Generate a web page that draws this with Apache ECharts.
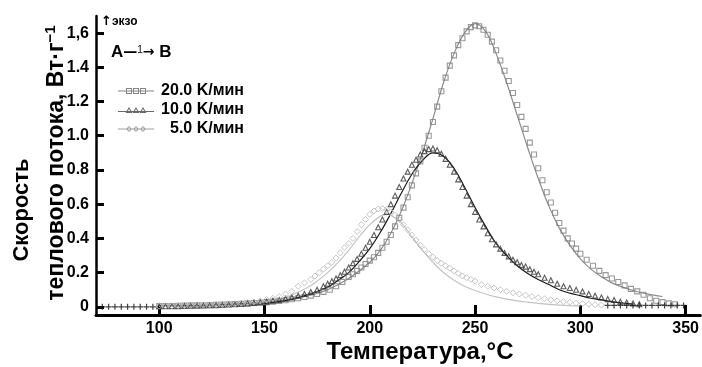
<!DOCTYPE html>
<html><head><meta charset="utf-8">
<script src="https://cdn.jsdelivr.net/npm/echarts@6/dist/echarts.min.js"></script>
<style>html,body{margin:0;padding:0;background:#fff}#c{width:702px;height:367px}</style>
</head><body><div id="c"></div>
<script>
const NARROW = '"Liberation Sans Narrow","Arial Narrow","Liberation Sans",Arial,sans-serif';

// axis ticks / labels
const yTickValues = [0, 0.2, 0.4, 0.6, 0.8, 1.0, 1.2, 1.4, 1.6];
const yTickLabels = ['0', '0.2', '0.4', '0.6', '0.8', '1.0', '1.2', '1.4', '1,6'];
const xTickValues = [100, 150, 200, 250, 300, 350];
const xTickLabels = ['100', '150', '200', '250', '300', '350'];
const seriesNames = ['20.0 K/мин', '10.0 K/мин', '5.0 K/мин'];
const xTitle = 'Температура,°С';
const yTitle1 = 'Скорость';
const yTitle2 = 'теплового потока, Вт·г';

// measured points (T, heat flow)
const marks20 = [[100,.004],[103,.005],[106,.005],[109,.006],[112,.007],[115,.008],[118,.009],[121,.009],[124,.010],[127,.012],
 [130,.013],[133,.015],[136,.016],[139,.018],[142,.020],[145,.022],[148,.024],[151,.027],[154,.030],[157,.034],
 [160,.038],[163,.044],[166,.050],[169,.057],[172,.065],[175,.075],[178,.087],[181,.100],[184,.120],[187,.145],
 [190,.175],[192,.19],[194,.21],[196,.23],[198,.25],[200,.27],[202,.29],[204,.315],[206,.345],[208,.38],
 [210,.42],[212,.47],[214,.52],[216,.58],[218,.64],[220,.71],[222,.78],[224,.85],[226,.93],[228,1.00],
 [230,1.08],[232,1.17],[234,1.26],[236,1.34],[238,1.41],[240,1.47],[242,1.53],[244,1.57],[246,1.61],[248,1.635],
 [250,1.645],[252,1.64],[254,1.62],[256,1.59],[258,1.55],[260,1.50],[262,1.44],[264,1.38],[266,1.32],[268,1.25],
 [270,1.18],[272,1.11],[274,1.04],[276,.96],[278,.89],[280,.81],[282,.74],[284,.67],[286,.61],[288,.55],
 [290,.49],[292,.445],[294,.40],[296,.37],[298,.34],[300,.31],
 [303,.275],[306,.24],[309,.21],[312,.185],[315,.165],[318,.145],[321,.125],[324,.105],[327,.09],[330,.07],
 [333,.05],[336,.035],[339,.027],[342,.02],[345,.015]];

const marks10 = [[100,.003],[103,.003],[106,.004],[109,.004],[112,.005],[115,.006],[118,.007],[121,.008],[124,.009],[127,.010],
 [130,.011],[133,.013],[136,.015],[139,.017],[142,.020],[145,.023],[148,.027],[151,.030],[154,.035],[157,.040],
 [160,.047],[163,.055],[166,.065],[169,.075],[172,.087],[175,.100],[178,.120],
 [180,.135],[182,.15],[184,.165],[186,.185],[188,.205],[190,.23],[192,.255],[194,.28],[196,.31],[198,.345],
 [200,.38],[202,.42],[204,.465],[206,.51],[208,.555],[210,.60],[212,.65],[214,.70],[216,.75],[218,.79],
 [220,.83],[222,.86],[224,.89],[226,.91],[228,.922],[230,.925],[232,.915],[234,.895],[236,.865],[238,.83],
 [240,.79],[242,.745],[244,.70],[246,.65],[248,.60],[250,.555],[252,.51],[254,.47],[256,.43],[258,.395],
 [260,.365],[262,.34],[264,.315],[266,.295],[268,.275],[270,.26],[272,.245],[274,.235],[276,.22],[278,.205],
 [280,.19],[283,.17],[286,.155],[289,.135],[292,.12],[295,.11],[298,.10],[301,.09],[304,.075],[307,.065],
 [310,.055],[313,.045],[316,.04],[319,.03],[322,.025],[325,.02],[328,.015]];

const marks5 = [[100,.004],[103,.005],[106,.005],[109,.006],[112,.007],[115,.008],[118,.009],[121,.010],[124,.011],[127,.012],
 [130,.013],[133,.015],[136,.017],[139,.020],[142,.024],[145,.028],[148,.034],[151,.042],[154,.050],[157,.060],
 [160,.075],[163,.09],[166,.12],[169,.14],
 [172,.16],[174,.18],[176,.20],[178,.22],[180,.24],[182,.26],[184,.285],[186,.315],[188,.345],[190,.37],
 [192,.40],[194,.44],[196,.48],[198,.51],[200,.54],[202,.56],[204,.572],[206,.575],[208,.57],[210,.555],
 [212,.535],[214,.51],[216,.48],[218,.45],[220,.42],[222,.39],[224,.36],[226,.335],[228,.31],[230,.29],
 [232,.27],[234,.255],[236,.24],[238,.225],[240,.21],[242,.195],[244,.18],[246,.17],[248,.16],[250,.15],
 [253,.13],[256,.12],[259,.11],[262,.10],[265,.09],[268,.082],[271,.075],[274,.068],[277,.06],[280,.053],
 [283,.047],[286,.04],[289,.035],[292,.03],[295,.026],[298,.022],[301,.018],[304,.015],[307,.012],[310,.01]];

const baseMarks = [[73,0],[76,0],[79,0],[82,0],[85,0],[88,0],[91,0],[94,0],[97,0],
 [313,.008],[316,.008],[319,.008],[322,.008],[325,.008],[328,.008],[331,.008],[334,.008],[337,.008],[340,.008],
 [343,.008],[346,.008],[349,.008]];

// fitted curves
const fit20 = [[100,.003],[110,.005],[120,.008],[130,.012],[140,.018],[150,.026],[160,.04],[170,.062],[180,.10],[190,.165],
 [200,.26],[205,.33],[210,.43],[215,.56],[220,.72],[225,.90],[230,1.10],[235,1.31],[240,1.48],[245,1.60],
 [250,1.655],[255,1.61],[260,1.48],[265,1.31],[270,1.12],[275,.93],[280,.75],[285,.59],[290,.46],[295,.36],
 [300,.28],[305,.22],[310,.175],[315,.14],[320,.115],[325,.095],[330,.08],[335,.068],[339,.06]];
const fit10 = [[100,.002],[110,.003],[120,.005],[130,.008],[140,.012],[150,.02],[160,.036],[170,.068],[180,.115],[185,.155],
 [190,.20],[195,.265],[200,.34],[205,.435],[210,.545],[215,.665],[220,.775],[225,.855],[230,.90],[235,.88],
 [240,.81],[245,.70],[250,.58],[255,.47],[260,.37],[265,.30],[270,.24],[275,.195],[280,.16],[285,.13],
 [290,.10],[295,.08],[300,.065],[305,.05],[310,.04],[315,.03],[320,.022],[325,.016]];
const fit5 = [[100,.002],[120,.005],[140,.012],[150,.025],[160,.055],[170,.11],[175,.15],[180,.20],[185,.26],[190,.33],
 [195,.41],[200,.48],[205,.53],[208,.54],[210,.535],[215,.49],[220,.41],[225,.33],[230,.26],[235,.20],
 [240,.155],[245,.12],[250,.095],[255,.075],[260,.058],[265,.045],[270,.035],[275,.027],[280,.02],[290,.01],[300,.005]];

const sqIcon = 'path://M0,2.5H36V3.5H0Z M8,0H14V6H8Z M9,1V5H13V1Z M15,0H21V6H15Z M16,1V5H20V1Z M22,0H28V6H22Z M23,1V5H27V1Z';
const trIcon = 'path://M0,4H36V5H0Z M11,0L14.5,6H7.5Z M11,2L9.2,5H12.8Z M18,0L21.5,6H14.5Z M18,2L16.2,5H19.8Z M25,0L28.5,6H21.5Z M25,2L23.2,5H26.8Z';
const dmIcon = 'path://M0,2.5H36V3.5H0Z M11,0L14,3L11,6L8,3Z M11,1.3L9.3,3L11,4.7L12.7,3Z M18,0L21,3L18,6L15,3Z M18,1.3L16.3,3L18,4.7L19.7,3Z M25,0L28,3L25,6L22,3Z M25,1.3L23.3,3L25,4.7L26.7,3Z';
const plusPath = 'path://M4,0H6V4H10V6H6V10H4V6H0V4H4Z';

const chart = echarts.init(document.getElementById('c'), null, {renderer: 'canvas'});
chart.setOption({
  animation: false,
  backgroundColor: '#fff',
  grid: {left: 96, right: 0, top: 16, bottom: 52},
  xAxis: {
    type: 'value', min: 70, max: 357,
    axisLine: {onZero: false, lineStyle: {color: '#000', width: 3}},
    axisTick: {inside: true, length: 10, lineStyle: {color: '#000', width: 3}, customValues: xTickValues},
    axisLabel: {customValues: xTickValues, margin: 6, color: '#000', fontFamily: NARROW, fontWeight: 'bold', fontSize: 16,
      formatter: v => xTickLabels[xTickValues.indexOf(v)]},
    splitLine: {show: false}
  },
  yAxis: {
    type: 'value', min: -0.048, max: 1.70,
    axisLine: {show: true, lineStyle: {color: '#000', width: 2.5}},
    axisTick: {show: true, inside: true, length: 8, lineStyle: {color: '#000', width: 3}, customValues: yTickValues},
    axisLabel: {customValues: yTickValues, margin: 7, color: '#000', fontFamily: NARROW, fontWeight: 'bold', fontSize: 16,
      formatter: v => { let i = 0, d = 9; yTickValues.forEach((t, k) => { if (Math.abs(t - v) < d) { d = Math.abs(t - v); i = k; } }); return yTickLabels[i]; }},
    splitLine: {show: false}
  },
  legend: {
    left: 113, top: 78, orient: 'vertical', itemGap: 3, itemWidth: 36, itemHeight: 6,
    formatter: '{r|{name}}',
    textStyle: {color: '#000', rich: {r: {width: 85, align: 'right', fontFamily: NARROW, fontWeight: 'bold', fontSize: 16, lineHeight: 16, color: '#000'}}},
    data: [
      {name: seriesNames[0], icon: sqIcon, itemStyle: {color: '#666', borderWidth: 0}},
      {name: seriesNames[1], icon: trIcon, itemStyle: {color: '#444', borderWidth: 0}},
      {name: seriesNames[2], icon: dmIcon, itemStyle: {color: '#888', borderWidth: 0}}
    ]
  },
  series: [
    {type: 'line', name: 'fit20', data: fit20, smooth: 0.4, symbol: 'none', lineStyle: {color: '#8c8c8c', width: 1.2}, z: 2, silent: true},
    {type: 'line', name: 'fit10', data: fit10, smooth: 0.4, symbol: 'none', lineStyle: {color: '#1a1a1a', width: 1.2}, z: 2, silent: true},
    {type: 'line', name: 'fit5', data: fit5, smooth: 0.4, symbol: 'none', lineStyle: {color: '#c4c4c4', width: 1.2}, z: 2, silent: true},
    {type: 'scatter', name: seriesNames[0], data: marks20, symbol: 'rect', symbolSize: 5,
      itemStyle: {color: 'rgba(255,255,255,0)', borderColor: '#808080', borderWidth: 1.1}, z: 3},
    {type: 'scatter', name: seriesNames[1], data: marks10, symbol: 'triangle', symbolSize: 5,
      itemStyle: {color: 'rgba(255,255,255,0)', borderColor: '#333', borderWidth: 1.1}, z: 3},
    {type: 'scatter', name: seriesNames[2], data: marks5, symbol: 'diamond', symbolSize: 6,
      itemStyle: {color: 'rgba(255,255,255,0)', borderColor: '#b8b8b8', borderWidth: 1}, z: 3},
    {type: 'scatter', name: 'base', data: baseMarks, symbol: plusPath, symbolSize: 6, itemStyle: {color: '#111'}, z: 3}
  ],
  graphic: [
    {type: 'text', x: 22, y: 210, rotation: Math.PI / 2,
      style: {text: yTitle1, fill: '#000', font: 'bold 22px ' + NARROW, align: 'center', verticalAlign: 'middle'}},
    {type: 'text', x: 57, y: 163, rotation: Math.PI / 2,
      style: {text: '{a|' + yTitle2 + '}{s|−1}', align: 'center', verticalAlign: 'middle',
        rich: {a: {fontFamily: NARROW, fontWeight: 'bold', fontSize: 23, fill: '#000', color: '#000'},
               s: {fontFamily: NARROW, fontWeight: 'bold', fontSize: 15, color: '#000', padding: [0, 0, 12, 0]}}}},
    {type: 'text', x: 420, y: 352,
      style: {text: xTitle, fill: '#000', font: 'bold 24px ' + NARROW, align: 'center', verticalAlign: 'middle'}},
    {type: 'text', x: 101, y: 22,
      style: {text: '{a|↑}{b|экзо}', align: 'left', verticalAlign: 'middle',
        rich: {a: {fontFamily: 'DejaVu Sans', fontWeight: 'bold', fontSize: 13, color: '#000'},
               b: {fontFamily: NARROW, fontWeight: 'bold', fontSize: 12, color: '#000'}}}},
    {type: 'text', x: 111, y: 52,
      style: {text: '{t|A}{d|—}{o|1}{d|→}{t| B}', align: 'left', verticalAlign: 'middle',
        rich: {t: {fontFamily: NARROW, fontWeight: 'bold', fontSize: 17, color: '#000'},
               d: {fontFamily: 'DejaVu Sans', fontWeight: 'bold', fontSize: 14, color: '#000'},
               o: {fontFamily: NARROW, fontSize: 10, color: '#000', padding: [0, 0, 3, 0]}}}}
  ]
});
</script></body></html>
